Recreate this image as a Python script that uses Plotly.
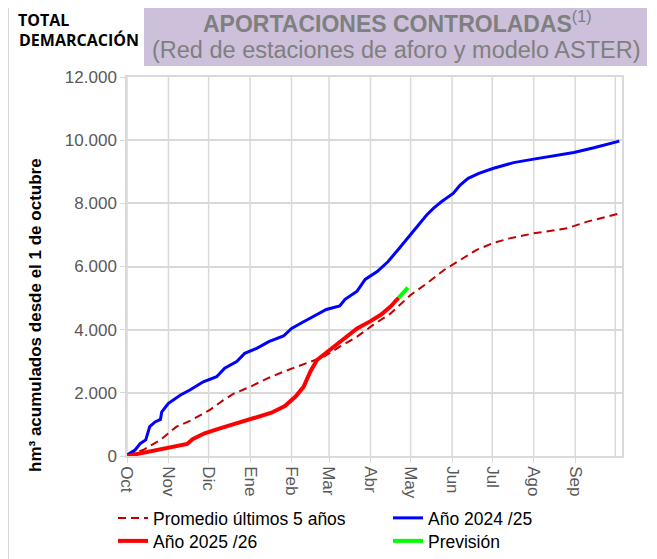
import plotly.graph_objects as go

# ---- data (x = days since 1 October) ----
month_labels = ["Oct", "Nov", "Dic", "Ene", "Feb", "Mar", "Abr", "May",
                "Jun", "Jul", "Ago", "Sep"]
month_days = [0, 31, 61, 92, 123, 151, 182, 212, 243, 273, 304, 335]
grid_days = month_days + [365]

prom_days = [0, 12, 25, 37, 47, 62, 72, 80, 92, 105, 117, 137, 147, 159, 172,
             184, 197, 212, 224, 237, 249, 261, 274, 286, 304, 329, 344, 368]
prom_vals = [30, 190, 510, 930, 1110, 1460, 1770, 1980, 2190, 2460, 2670, 2990,
             3140, 3460, 3780, 4150, 4510, 5100, 5460, 5890, 6210, 6520, 6750,
             6890, 7050, 7210, 7420, 7680]

a2425_days = [0, 6, 10, 14, 17, 21, 25, 26, 31, 40, 47, 57, 67, 73, 82, 88, 97,
              106, 117, 123, 132, 141, 149, 159, 163, 172, 178, 187, 195, 204,
              213, 220, 224, 229, 235, 244, 249, 255, 263, 274, 289, 304, 324,
              334, 349, 368]
a2425_vals = [30, 190, 400, 510, 930, 1080, 1160, 1400, 1670, 1930, 2090, 2350,
              2510, 2780, 2990, 3250, 3410, 3620, 3800, 4040, 4250, 4460, 4640,
              4750, 4960, 5220, 5590, 5840, 6150, 6600, 7050, 7400, 7630, 7840,
              8050, 8320, 8580, 8790, 8950, 9110, 9290, 9400, 9550, 9610, 9760,
              9970]

a2526_days = [0, 17, 35, 45, 49, 58, 70, 80, 90, 100, 108, 118, 126, 132, 137,
              142, 152, 162, 172, 182, 190, 197, 203]
a2526_vals = [0, 140, 280, 380, 530, 720, 880, 1010, 1140, 1250, 1370, 1580,
              1880, 2190, 2670, 3040, 3380, 3720, 4040, 4270, 4480, 4730, 5010]

prev_days = [203, 207, 210]
prev_vals = [5010, 5180, 5330]

y_ticks = [0, 2000, 4000, 6000, 8000, 10000, 12000]

# ---- geometry (the page adds an 8px body margin; work in page pixels) ----
OFF = 8
W, H = 657 - OFF, 559 - OFF
PL, PR, PT, PB = 127, 622, 77, 456          # plot box in page pixels
L, R, T, B = PL - OFF, W - (PR - OFF), PT - OFF, H - (PB - OFF)
pw, ph = W - L - R, H - T - B


def px(x):   # page pixel -> paper x
    return (x - OFF - L) / pw


def py(y):   # page pixel -> paper y
    return (H - B - (y - OFF)) / ph


FONT = "Liberation Sans, Arial, sans-serif"

fig = go.Figure()
fig.add_trace(go.Scatter(x=prom_days, y=prom_vals, mode="lines",
                         name="Promedio últimos 5 años", legend="legend",
                         line=dict(color="#C00000", width=2, dash="8px,5px")))
fig.add_trace(go.Scatter(x=a2425_days, y=a2425_vals, mode="lines",
                         name="Año 2024 /25", legend="legend",
                         line=dict(color="#0000FF", width=3)))
fig.add_trace(go.Scatter(x=a2526_days, y=a2526_vals, mode="lines",
                         name="Año 2025 /26", legend="legend2",
                         line=dict(color="#FF0000", width=4)))
fig.add_trace(go.Scatter(x=prev_days, y=prev_vals, mode="lines",
                         name="Previsión", legend="legend2",
                         line=dict(color="#00FF00", width=4)))

grid_col = "#D9D9D9"
axis_font = dict(family=FONT, size=17, color="#595959")
leg_common = dict(orientation="h", xanchor="left", yanchor="top",
                  entrywidth=230, entrywidthmode="pixels", traceorder="normal",
                  font=dict(family=FONT, size=17.5, color="black"),
                  bgcolor="rgba(0,0,0,0)", borderwidth=0)

fig.update_layout(
    width=W, height=H,
    margin=dict(l=L, r=R, t=T, b=B, autoexpand=False),
    paper_bgcolor="white", plot_bgcolor="white",
    separators=",.",
    showlegend=True,
    legend=dict(x=px(113), y=py(500), **leg_common),
    legend2=dict(x=px(113), y=py(523), **leg_common),
    xaxis=dict(range=[0, 370], tickvals=month_days, ticktext=month_labels,
               tickangle=90, tickfont=axis_font, showgrid=False,
               showline=True, linecolor=grid_col, linewidth=1.5, mirror=True,
               ticks="outside", ticklen=5, tickcolor=grid_col, zeroline=False,
               fixedrange=True),
    yaxis=dict(range=[0, 12000], tickvals=y_ticks, tickformat=",d",
               tickfont=axis_font, showgrid=True, gridcolor=grid_col, gridwidth=1.5,
               showline=True, linecolor=grid_col, linewidth=1.5, mirror=True,
               ticks="outside", ticklen=5, tickcolor=grid_col, zeroline=False,
               fixedrange=True),
)

# y-axis title (placed lower than centre, as in the reference)
fig.add_annotation(xref="paper", yref="paper", x=px(35), y=py(315),
                   xanchor="center", yanchor="middle", showarrow=False,
                   textangle=-90,
                   text="<b>hm³ acumulados desde el 1 de octubre</b>",
                   font=dict(family=FONT, size=17, color="black"))

# vertical month gridlines (month starts)
for d in grid_days:
    fig.add_shape(type="line", xref="x", yref="paper", x0=d, x1=d, y0=0, y1=1,
                  line=dict(color=grid_col, width=1.5), layer="below")

# outer frame lines of the picture
for xx in (8.5, 650):
    fig.add_shape(type="line", xref="paper", yref="paper", x0=px(xx), x1=px(xx),
                  y0=py(OFF), y1=py(559), line=dict(color=grid_col, width=1))

# title box
fig.add_shape(type="rect", xref="paper", yref="paper", x0=px(144), x1=px(647),
              y0=py(66), y1=py(5), fillcolor="#CCC0DA", line=dict(width=0),
              layer="below")
fig.add_annotation(xref="paper", yref="paper", x=px(397), y=py(22),
                   xanchor="center", yanchor="middle", showarrow=False,
                   text="<b>APORTACIONES CONTROLADAS</b><sup>(1)</sup>",
                   font=dict(family=FONT, size=23, color="#7F7F7F"))
fig.add_annotation(xref="paper", yref="paper", x=px(396), y=py(50),
                   xanchor="center", yanchor="middle", showarrow=False,
                   text="(Red de estaciones de aforo y modelo ASTER)",
                   font=dict(family=FONT, size=23.5, color="#7F7F7F"))
fig.add_annotation(xref="paper", yref="paper", x=px(17), y=py(8),
                   xanchor="left", yanchor="top", showarrow=False,
                   text="<b>TOTAL</b>", borderpad=0,
                   font=dict(family="Open Sans, sans-serif", size=16, color="black"))
fig.add_annotation(xref="paper", yref="paper", x=px(17), y=py(40),
                   xanchor="left", yanchor="middle", showarrow=False,
                   text="<b>DEMARCACIÓN</b>",
                   font=dict(family="Open Sans, sans-serif", size=16, color="black"))

fig.write_html("out.html")
